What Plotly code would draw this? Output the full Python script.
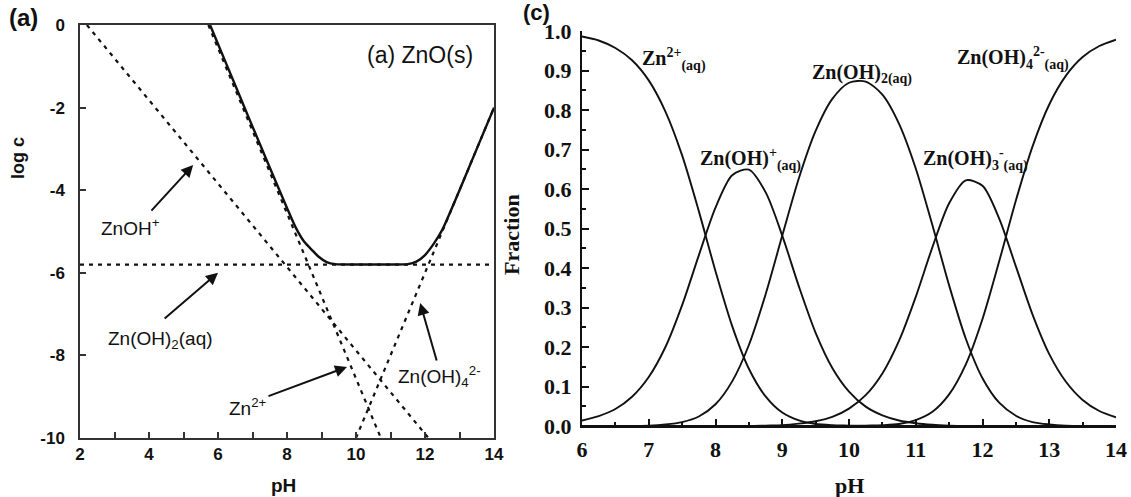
import plotly.graph_objects as go

# ---------------- Panel (a): log c vs pH ----------------
ph_zn2 = [5.72, 10.72]
logc_zn2 = [0.0, -10.0]
ph_znoh = [2.2, 12.1]
logc_znoh = [0.0, -10.0]
ph_znoh2 = [2.0, 14.0]
logc_znoh2 = [-5.8, -5.8]
ph_znoh4 = [10.0, 14.0]
logc_znoh4 = [-10.0, -2.0]
ph_total = [5.77, 6.0, 6.5, 7.0, 7.5, 8.0, 8.25, 8.5, 8.75, 8.9, 9.15, 9.4, 10.0, 10.5, 11.0,
            11.5, 11.75, 12.0, 12.25, 12.5, 13.0, 13.5, 14.0]
logc_total = [0.0, -0.46, -1.46, -2.46, -3.45, -4.43, -4.9, -5.25, -5.47, -5.6, -5.74, -5.79, -5.8,
              -5.8, -5.8, -5.79, -5.73, -5.57, -5.3, -4.96, -4.0, -3.0, -2.0]

# ---------------- Panel (c): fraction vs pH ----------------
ph_frac = [6.0, 6.25, 6.5, 6.75, 7.0, 7.25, 7.5, 7.75, 8.0, 8.25, 8.5, 8.75, 9.0, 9.25, 9.5, 9.75,
           10.0, 10.25, 10.5, 10.75, 11.0, 11.25, 11.5, 11.75, 12.0, 12.25, 12.5, 12.75, 13.0,
           13.25, 13.5, 13.75, 14.0]
f_zn2 = [0.986, 0.976, 0.957, 0.926, 0.875, 0.796, 0.685, 0.544, 0.392, 0.253, 0.145, 0.075, 0.034,
         0.014, 0.005, 0.002, 0.001, 0, 0, 0, 0, 0, 0, 0, 0, 0, 0, 0, 0, 0, 0, 0, 0]
f_znoh = [0.014, 0.025, 0.043, 0.074, 0.124, 0.200, 0.306, 0.432, 0.553, 0.635, 0.649, 0.592, 0.482,
          0.353, 0.236, 0.147, 0.087, 0.049, 0.027, 0.014, 0.007, 0.003, 0.001, 0, 0, 0, 0, 0, 0,
          0, 0, 0, 0]
f_znoh2 = [0, 0, 0, 0, 0.001, 0.004, 0.010, 0.024, 0.055, 0.113, 0.205, 0.333, 0.482, 0.628, 0.747,
           0.828, 0.869, 0.872, 0.839, 0.765, 0.652, 0.508, 0.356, 0.221, 0.121, 0.059, 0.026,
           0.010, 0.004, 0.001, 0, 0, 0]
f_znoh3 = [0, 0, 0, 0, 0, 0, 0, 0, 0, 0, 0, 0.001, 0.002, 0.006, 0.012, 0.023, 0.044, 0.078, 0.133,
           0.216, 0.327, 0.453, 0.564, 0.622, 0.608, 0.525, 0.404, 0.282, 0.182, 0.112, 0.066,
           0.038, 0.022]
f_znoh4 = [0, 0, 0, 0, 0, 0, 0, 0, 0, 0, 0, 0, 0, 0, 0, 0, 0, 0.001, 0.002, 0.005, 0.015, 0.036,
           0.080, 0.156, 0.271, 0.417, 0.571, 0.708, 0.814, 0.887, 0.934, 0.962, 0.978]

ARIAL = "Arial, Liberation Sans, sans-serif"
TIMES = "Times New Roman, Liberation Serif, serif"
W, H = 1131, 497

fig = go.Figure()

dash_style = dict(color="#111", width=2.2, dash="4px,5px")
for xs, ys in [(ph_znoh, logc_znoh), (ph_zn2, logc_zn2), (ph_znoh2, logc_znoh2), (ph_znoh4, logc_znoh4)]:
    fig.add_trace(go.Scatter(x=xs, y=ys, mode="lines", line=dash_style, xaxis="x", yaxis="y",
                             showlegend=False, hoverinfo="skip"))
fig.add_trace(go.Scatter(x=ph_total, y=logc_total, mode="lines",
                         line=dict(color="#111", width=2.4, shape="spline", smoothing=0.6),
                         xaxis="x", yaxis="y", showlegend=False, hoverinfo="skip"))

for ys in [f_zn2, f_znoh, f_znoh2, f_znoh3, f_znoh4]:
    fig.add_trace(go.Scatter(x=ph_frac, y=ys, mode="lines",
                             line=dict(color="#111", width=1.9, shape="spline", smoothing=0.8),
                             xaxis="x2", yaxis="y2", showlegend=False, hoverinfo="skip"))

ann = []


def arrow(x_tail, y_tail, x_head, y_head):
    ann.append(dict(x=x_head, y=y_head, ax=x_tail, ay=y_tail, xref="x", yref="y", axref="x", ayref="y",
                    showarrow=True, arrowhead=2, arrowsize=1.2, arrowwidth=2, arrowcolor="#111", text=""))


def px_text(x, y, text, font, angle=0):
    ann.append(dict(x=x / W, y=1 - y / H, xref="paper", yref="paper", xanchor="center", yanchor="middle",
                    text=text, textangle=angle, showarrow=False, font=font))


arrow(4.03, -4.53, 5.28, -3.39)
arrow(4.41, -7.14, 6.0, -6.0)
arrow(7.42, -9.0, 9.74, -8.28)
arrow(12.35, -8.16, 11.86, -6.73)

afont = dict(family=ARIAL, size=19, color="#111")
for x, y, t in [(3.45, -4.89, "ZnOH<sup>+</sup>"), (4.32, -7.63, "Zn(OH)<sub>2</sub>(aq)"),
                (6.87, -9.25, "Zn<sup>2+</sup>"), (12.43, -8.52, "Zn(OH)<sub>4</sub><sup>2-</sup>")]:
    ann.append(dict(x=x, y=y, xref="x", yref="y", text=t, showarrow=False, font=afont))
ann.append(dict(x=11.85, y=-0.73, xref="x", yref="y", text="(a) ZnO(s)", showarrow=False,
                font=dict(family=ARIAL, size=23, color="#111")))

px_text(23, 17, "<b>(a)</b>", dict(family=ARIAL, size=24, color="#111"))
px_text(18, 158, "<b>log c</b>", dict(family=ARIAL, size=18, color="#111"), angle=-90)
px_text(283, 485, "<b>pH</b>", dict(family=ARIAL, size=19, color="#111"))

cfont = dict(family=TIMES, size=20, color="#111", weight="bold")
for x, y, t in [(6.87, 0.927, "Zn<sup>2+</sup><sub>(aq)</sub>"),
                (7.74, 0.675, "Zn(OH)<sup>+</sup><sub>(aq)</sub>"),
                (9.42, 0.89, "Zn(OH)<sub>2(aq)</sub>"),
                (11.59, 0.93, "Zn(OH)<sub>4</sub><sup>2-</sup><sub>(aq)</sub>"),
                (11.08, 0.675, "Zn(OH)<sub>3</sub><sup>-</sup><sub>(aq)</sub>")]:
    ann.append(dict(x=x, y=y, xref="x2", yref="y2", xanchor="left", text=t, showarrow=False, font=cfont))

px_text(536, 13, "<b>(c)</b>", dict(family=ARIAL, size=22, color="#111"))
px_text(511, 235, "<b>Fraction</b>", dict(family=TIMES, size=22, color="#111"), angle=-90)
px_text(850, 485, "<b>pH</b>", dict(family=TIMES, size=22, color="#111"))

fig.update_layout(
    width=W, height=H, margin=dict(l=0, r=0, t=0, b=0, autoexpand=False),
    paper_bgcolor="white", plot_bgcolor="white",
    annotations=ann,
    xaxis=dict(domain=[80 / W, 494 / W], range=[2, 14], tickvals=[2, 4, 6, 8, 10, 12, 14],
               ticks="inside", ticklen=6, tickcolor="#333", tickwidth=1.5, automargin=False,
               minor=dict(tickvals=[3, 5, 7, 9, 11, 13], ticks="inside", ticklen=6, tickcolor="#333"),
               showline=True, linecolor="#333", linewidth=1.5, mirror=True, showgrid=False, zeroline=False,
               tickfont=dict(family=ARIAL, size=17, color="#111", weight="bold"), anchor="y"),
    yaxis=dict(domain=[1 - 438 / H, 1 - 25 / H], range=[-10, 0], tickvals=[0, -2, -4, -6, -8, -10],
               ticktext=["0", "-2", "-4", "-6", "-8", "-10"], ticklabelstandoff=10,
               ticks="inside", ticklen=6, tickcolor="#333", tickwidth=1.5, automargin=False,
               showline=True, linecolor="#333", linewidth=1.5, mirror=True, showgrid=False, zeroline=False,
               tickfont=dict(family=ARIAL, size=17, color="#111", weight="bold"), anchor="x"),
    xaxis2=dict(domain=[582 / W, 1116 / W], range=[6, 14], dtick=1, automargin=False,
                ticks="inside", ticklen=7, tickcolor="#111", tickwidth=1.5, ticklabelstandoff=3,
                minor=dict(dtick=0.5, ticks="inside", ticklen=4, tickcolor="#111"),
                showline=True, linecolor="#111", linewidth=2, showgrid=False, zeroline=False,
                tickfont=dict(family=TIMES, size=22, color="#111", weight="bold"), anchor="y2"),
    yaxis2=dict(domain=[1 - 426 / H, 1 - 31 / H], range=[0, 1.0], dtick=0.1, tickformat=".1f",
                automargin=False, ticklabelstandoff=4,
                ticks="inside", ticklen=7, tickcolor="#111", tickwidth=1.5,
                minor=dict(dtick=0.05, ticks="inside", ticklen=4, tickcolor="#111"),
                showline=True, linecolor="#111", linewidth=2, showgrid=False, zeroline=False,
                tickfont=dict(family=TIMES, size=22, color="#111", weight="bold"), anchor="x2"),
)

fig.write_html("out.html", config={"displayModeBar": False},
               post_script="document.body.style.margin='0';document.body.style.overflow='hidden';")
